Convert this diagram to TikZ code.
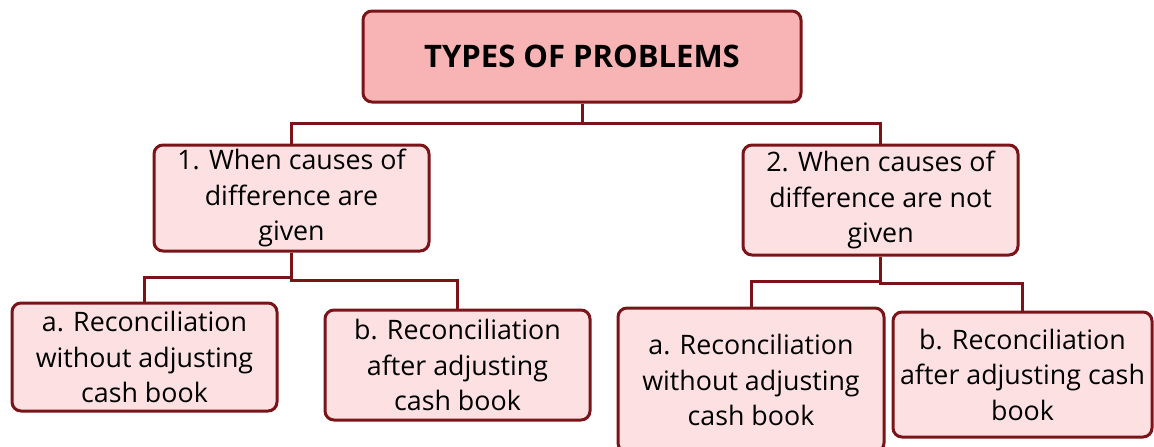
\documentclass[tikz,border=0pt]{standalone}
\usepackage{fontspec}
\setmainfont{Open Sans}
\usepackage{xcolor}
\usetikzlibrary{positioning,calc}

\definecolor{wine}{HTML}{7A1418}
\definecolor{rosetop}{HTML}{F8B4B4}
\definecolor{rosebox}{HTML}{FDE1E2}

\tikzset{
  box/.style={draw=wine,line width=3pt,rounded corners=9pt,fill=rosebox,
    align=center,inner sep=0pt,font=\fontsize{26.8}{35.5}\selectfont},
  headbox/.style={box,fill=rosetop,font=\fontsize{31}{36}\selectfont\bfseries},
  link/.style={draw=wine,line width=3pt}
}

\begin{document}
\begin{tikzpicture}[x=1pt,y=-1pt]
    \useasboundingbox (0,0) rectangle (1154,447);

    % Root
    \node[headbox,minimum width=438pt,minimum height=91pt] (types) at (582,56.5) {TYPES OF PROBLEMS};

    % First level
    \node[box,minimum width=275pt,minimum height=106pt] (given) at (291.5,198)
        {1. When causes of\\difference are\\given};
    \node[box,minimum width=275pt,minimum height=110pt] (notgiven) at (880.5,200)
        {2. When causes of\\difference are not\\given};

    % Second level, left
    \node[box,minimum width=265pt,minimum height=108pt] (givenA) at (144.5,357)
        {a. Reconciliation\\without adjusting\\cash book};
    \node[box,minimum width=265pt,minimum height=110pt] (givenB) at (457.5,365)
        {b. Reconciliation\\after adjusting\\cash book};

    % Second level, right
    \node[box,minimum width=266pt,minimum height=144pt] (notgivenA) at (751,380)
        {a. Reconciliation\\without adjusting\\cash book};
    \node[box,minimum width=259pt,minimum height=125pt] (notgivenB) at (1022.5,374.5)
        {b. Reconciliation\\after adjusting cash\\book};

    % Elbow connectors
    \foreach \parent/\child in {types/given,types/notgiven,given/givenA,given/givenB,notgiven/notgivenA,notgiven/notgivenB}
        \draw[link] (\parent.south) |- ($(\parent.south)!0.5!(\child.north)$) -| (\child.north);
\end{tikzpicture}
\end{document}
